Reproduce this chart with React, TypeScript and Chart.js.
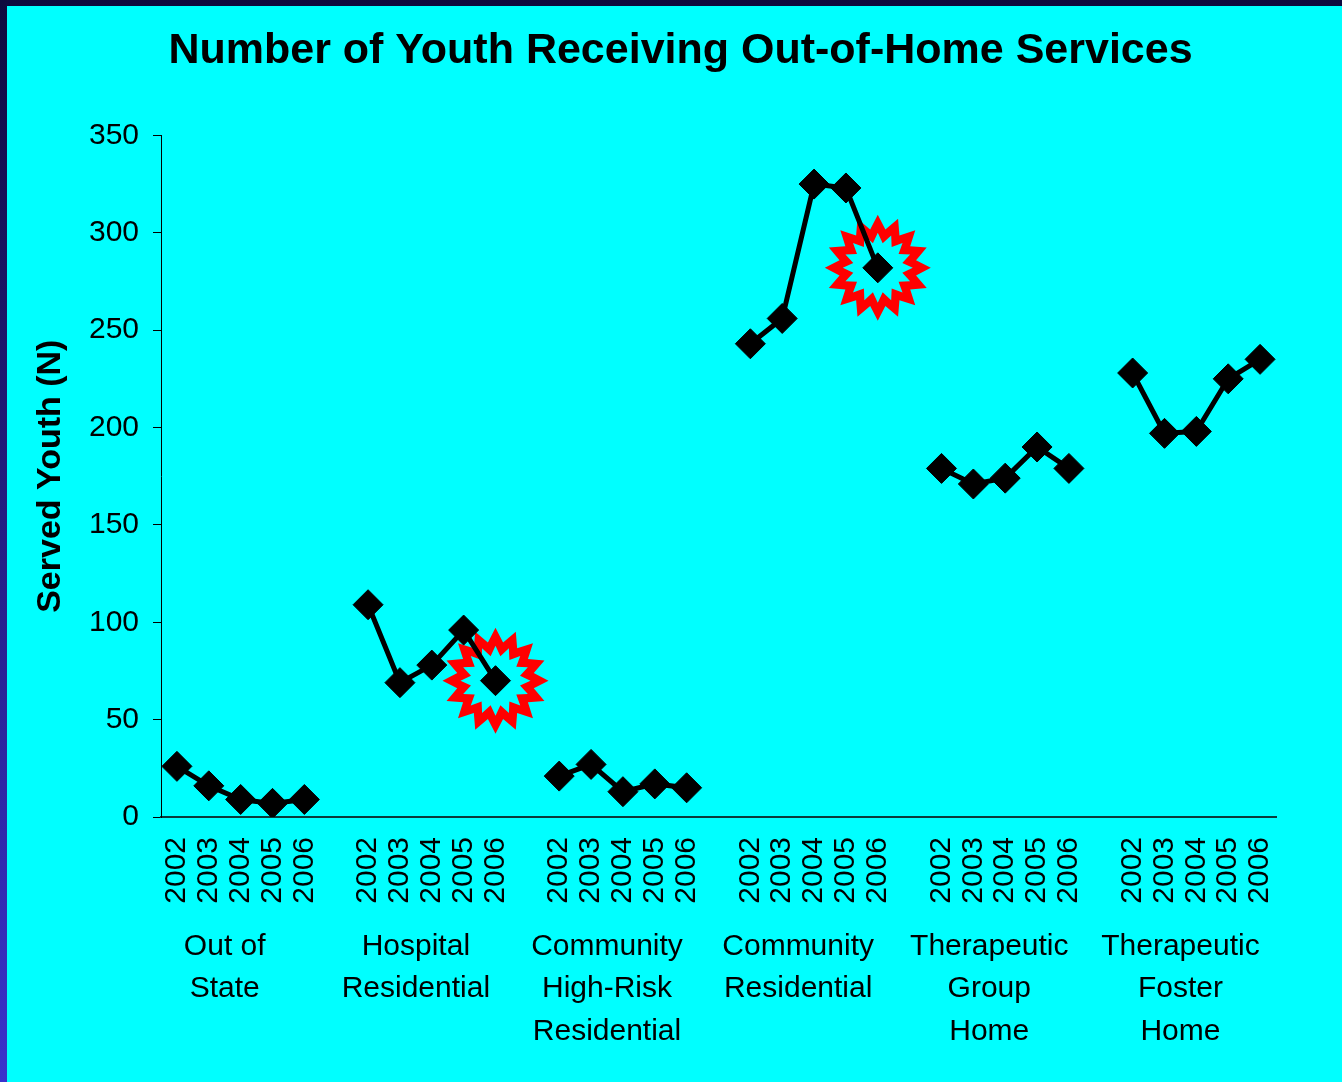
import React, { useEffect, useRef } from 'react';
import { Chart, registerables } from 'chart.js';

Chart.register(...registerables);

const chartTitle = 'Number of Youth Receiving Out-of-Home Services';
const yAxisTitle = 'Served Youth (N)';
const years = ['2002', '2003', '2004', '2005', '2006'];
const groupLabels = [
  ['Out of', 'State'],
  ['Hospital', 'Residential'],
  ['Community', 'High-Risk', 'Residential'],
  ['Community', 'Residential'],
  ['Therapeutic', 'Group', 'Home'],
  ['Therapeutic', 'Foster', 'Home'],
];
const outOfState = [26, 16, 9, 7, 9];
const hospitalResidential = [109, 69, 78, 96, 70];
const communityHighRisk = [21, 27, 13, 17, 15];
const communityResidential = [243, 256, 325, 323, 282];
const therapeuticGroupHome = [179, 171, 174, 190, 179];
const therapeuticFosterHome = [228, 197, 198, 225, 235];
const seriesValues = [
  outOfState,
  hospitalResidential,
  communityHighRisk,
  communityResidential,
  therapeuticGroupHome,
  therapeuticFosterHome,
];
// highlighted points (group index, year index)
const highlighted = [
  { group: 1, year: 4 },
  { group: 3, year: 4 },
];
const yMin = 0;
const yMax = 350;
const yStep = 50;

const FONT = "'Liberation Sans', Arial, Helvetica, sans-serif";
const SLOT = years.length + 1; // years plus a blank spacer slot

function buildLabels(): string[] {
  const out: string[] = [];
  groupLabels.forEach((_, g) => {
    if (g > 0) out.push('');
    years.forEach((y) => out.push(y));
  });
  return out;
}

function drawStar(ctx: CanvasRenderingContext2D, cx: number, cy: number, R: number, r: number, color: string) {
  const n = 16;
  ctx.beginPath();
  for (let k = 0; k < n * 2; k++) {
    const a = -Math.PI / 2 + (k * Math.PI) / n;
    const rad = k % 2 === 0 ? R : r;
    const px = cx + Math.cos(a) * rad;
    const py = cy + Math.sin(a) * rad;
    if (k === 0) ctx.moveTo(px, py);
    else ctx.lineTo(px, py);
  }
  ctx.closePath();
  ctx.fillStyle = color;
  ctx.fill();
}

const starPlugin = {
  id: 'starburst',
  beforeDatasetsDraw(chart: any) {
    const { ctx, scales } = chart;
    const x = scales.x;
    const y = scales.y;
    ctx.save();
    highlighted.forEach(({ group, year }) => {
      const cx = x.getPixelForValue(group * SLOT + year);
      const cy = y.getPixelForValue(seriesValues[group][year]);
      drawStar(ctx, cx, cy, 53, 39, '#ff0000');
      drawStar(ctx, cx, cy, 35, 25, '#00ffff');
    });
    ctx.restore();
  },
};

export default function App() {
  const ref = useRef<HTMLCanvasElement | null>(null);

  useEffect(() => {
    if (!ref.current) return;
    Chart.defaults.font.family = FONT;
    const labels = buildLabels();
    const datasets = seriesValues.map((vals, g) => {
      const data: (number | null)[] = labels.map(() => null);
      vals.forEach((v, i) => {
        data[g * SLOT + i] = v;
      });
      return {
        label: groupLabels[g].join(' '),
        data,
        borderColor: '#000000',
        backgroundColor: '#000000',
        borderWidth: 5,
        pointStyle: 'rectRot' as const,
        pointRadius: 15,
        pointBorderWidth: 1,
        pointBorderColor: '#000000',
        pointBackgroundColor: '#000000',
        tension: 0,
        spanGaps: false,
      };
    });

    const chart = new Chart(ref.current, {
      type: 'line',
      data: { labels, datasets },
      plugins: [starPlugin],
      options: {
        animation: false,
        responsive: false,
        maintainAspectRatio: false,
        layout: { padding: { left: 78, right: 66, top: 0, bottom: 0 } },
        plugins: {
          legend: { display: false },
          tooltip: { enabled: false },
          title: {
            display: true,
            text: chartTitle,
            color: '#000000',
            font: { family: FONT, size: 43, weight: 'bold', lineHeight: 1.2 },
            padding: { top: 19, bottom: 58.8 },
          },
        },
        scales: {
          x: {
            type: 'category',
            offset: true,
            grid: { display: false, drawTicks: false },
            border: { display: true, color: '#0b3b3b', width: 2 },
            ticks: {
              autoSkip: false,
              minRotation: 90,
              maxRotation: 90,
              padding: 20,
              color: '#000000',
              font: { family: FONT, size: 30 },
            },
            afterFit: (s: any) => {
              s.height = 100;
            },
          },
          x2: {
            type: 'linear',
            position: 'bottom',
            weight: 1,
            min: -0.5,
            max: labels.length - 0.5,
            grid: { display: false, drawTicks: false },
            border: { display: false },
            afterBuildTicks: (s: any) => {
              s.ticks = groupLabels.map((_, g) => ({ value: g * SLOT + 1.5 }));
            },
            ticks: {
              autoSkip: false,
              minRotation: 0,
              maxRotation: 0,
              padding: 8,
              color: '#000000',
              font: { family: FONT, size: 30, lineHeight: 1.42 },
              callback: (_v: any, i: number) => groupLabels[i],
            },
            afterFit: (s: any) => {
              s.height = 165;
            },
          },
          y: {
            min: yMin,
            max: yMax,
            ticks: {
              stepSize: yStep,
              padding: 14,
              color: '#000000',
              font: { family: FONT, size: 30 },
            },
            grid: {
              display: true,
              drawOnChartArea: false,
              drawTicks: true,
              tickLength: 8,
              color: '#000000',
              lineWidth: 1,
            },
            border: { display: true, color: '#000000', width: 1 },
            title: {
              display: true,
              text: yAxisTitle,
              color: '#000000',
              font: { family: FONT, size: 34, weight: 'bold' },
              padding: { top: -55, bottom: 0 },
            },
            afterFit: (s: any) => {
              s.width = 76;
            },
          },
        },
      } as any,
    });
    return () => chart.destroy();
  }, []);

  return (
    <div
      style={{
        position: 'absolute',
        left: 0,
        top: 0,
        width: 1342,
        height: 1082,
        background: 'linear-gradient(#0e0b3e, #3a33cc)',
        overflow: 'hidden',
      }}
    >
      <div
        style={{
          position: 'absolute',
          left: 7,
          top: 6,
          width: 1335,
          height: 1076,
          background: '#00ffff',
        }}
      >
        <canvas ref={ref} width={1335} height={1076} style={{ display: 'block' }} />
      </div>
    </div>
  );
}
